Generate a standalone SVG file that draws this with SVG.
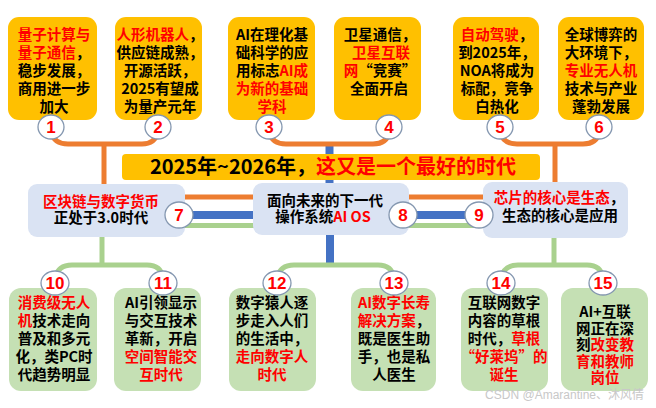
<svg xmlns="http://www.w3.org/2000/svg" width="656" height="408" viewBox="0 0 656 408">
<style>
.top{fill:#FFC000}
.mid{fill:#DAE3F3}
.bot{fill:#C5E0B4}
.t{font-family:"Noto Sans CJK SC","Liberation Sans",sans-serif;font-size:14.5px;font-weight:bold;fill:#000;text-anchor:middle}
.r{fill:#FF0000}
.num{font-family:"Liberation Sans","Noto Sans CJK SC",sans-serif;font-size:17px;font-weight:bold;fill:#FF0000;text-anchor:middle}
.c{fill:#fff;stroke:#8497B0;stroke-width:1.3}
.o{fill:none;stroke:#ED7D31;stroke-width:5}
.b{fill:none;stroke:#4472C4;stroke-width:8}
.g{fill:none;stroke:#A9D18E;stroke-width:5}
</style>
<rect width="656" height="408" fill="#fff"/>
<g id="connectors">
<path class="o" d="M51 132 Q54 144 68 144 H142 Q155 144 158 132"/>
<path class="o" d="M104 144 V186"/>
<path class="b" d="M329.5 146 V186"/>
<path class="o" d="M269 132 Q272 144 286 144 H373 Q387 144 389 132"/>
<path class="o" d="M500 132 Q503 144 517 144 H583 Q597 144 599 132"/>
<path class="o" d="M555 144 V184"/>
<path class="o" d="M183 197 H256 M406 197 H486" stroke-width="4.5"/>
<path class="b" d="M179 215 H256 M403 215 H479"/>
<path class="g" d="M183 225.5 H256 M406 225.5 H486"/>
<path class="g" d="M102 234 V265"/>
<path class="b" d="M330 232 V264"/>
<path class="g" d="M554 236 V265"/>
<path class="g" d="M55 278 Q58 265 72 265 H147 Q161 265 163 278"/>
<path class="g" d="M277 278 Q280 265 294 265 H378 Q392 265 394 278"/>
<path class="g" d="M501 278 Q504 265 518 265 H587 Q601 265 603 278"/>
</g>
<g id="title">
<rect x="122" y="154" width="418" height="26" rx="4" fill="#FFC000"/>
<text x="333" y="174" font-family="'Noto Sans CJK SC','Liberation Sans',sans-serif" font-size="20" font-weight="bold" text-anchor="middle" fill="#000">2025年~2026年，<tspan fill="#FF0000">这又是一个最好的时代</tspan></text>
</g>
<g id="n1">
<rect class="top" x="8" y="17" width="89" height="103" rx="11"/>
<text class="t"><tspan x="54" y="40" class="r">量子计算与</tspan><tspan x="54" y="58"><tspan class="r">量子通信</tspan>，</tspan><tspan x="54" y="76">稳步发展，</tspan><tspan x="54" y="94">商用进一步</tspan><tspan x="54" y="112">加大</tspan></text>
<ellipse class="c" cx="51" cy="127" rx="13" ry="12"/>
<text class="num" x="51" y="133">1</text>
</g>
<g id="n2">
<rect class="top" x="115" y="17" width="87" height="103" rx="11"/>
<text class="t"><tspan x="160" y="40"><tspan class="r">人形机器人</tspan>，</tspan><tspan x="160" y="58">供应链成熟，</tspan><tspan x="160" y="76">开源活跃，</tspan><tspan x="160" y="94">2025有望成</tspan><tspan x="160" y="112">为量产元年</tspan></text>
<ellipse class="c" cx="158" cy="127" rx="13" ry="12"/>
<text class="num" x="158" y="133">2</text>
</g>
<g id="n3">
<rect class="top" x="228" y="17" width="87" height="103" rx="11"/>
<text class="t"><tspan x="272" y="40">AI在理化基</tspan><tspan x="272" y="58">础科学的应</tspan><tspan x="272" y="76">用标志<tspan class="r">AI成</tspan></tspan><tspan x="272" y="94" class="r">为新的基础</tspan><tspan x="272" y="112" class="r">学科</tspan></text>
<ellipse class="c" cx="269" cy="127" rx="13" ry="12"/>
<text class="num" x="269" y="133">3</text>
</g>
<g id="n4">
<rect class="top" x="334" y="17" width="87" height="103" rx="11"/>
<text class="t"><tspan x="380" y="40">卫星通信，</tspan><tspan x="381" y="58" class="r">卫星互联</tspan><tspan x="380" y="76"><tspan class="r">网</tspan>“竞赛”</tspan><tspan x="379" y="94">全面开启</tspan></text>
<ellipse class="c" cx="389" cy="127" rx="13" ry="12"/>
<text class="num" x="389" y="133">4</text>
</g>
<g id="n5">
<rect class="top" x="453" y="17" width="86" height="103" rx="11"/>
<text class="t"><tspan x="497" y="40"><tspan class="r">自动驾驶</tspan>，</tspan><tspan x="497" y="58">到2025年，</tspan><tspan x="497" y="76">NOA将成为</tspan><tspan x="497" y="94">标配，竞争</tspan><tspan x="497" y="112">白热化</tspan></text>
<ellipse class="c" cx="500" cy="127" rx="13" ry="12"/>
<text class="num" x="500" y="133">5</text>
</g>
<g id="n6">
<rect class="top" x="558" y="17" width="86" height="103" rx="11"/>
<text class="t"><tspan x="601" y="40">全球博弈的</tspan><tspan x="601" y="58">大环境下，</tspan><tspan x="601" y="76" class="r">专业无人机</tspan><tspan x="601" y="94">技术与产业</tspan><tspan x="601" y="112">蓬勃发展</tspan></text>
<ellipse class="c" cx="599" cy="127" rx="13" ry="12"/>
<text class="num" x="599" y="133">6</text>
</g>
<g id="n7">
<rect class="mid" x="28" y="184" width="157" height="53" rx="9"/>
<text class="t"><tspan x="101" y="207" class="r">区块链与数字货币</tspan><tspan x="101" y="223">正处于3.0时代</tspan></text>
<ellipse class="c" cx="179" cy="215" rx="14" ry="13"/>
<text class="num" x="179" y="221">7</text>
</g>
<g id="n8">
<rect class="mid" x="253" y="183" width="156" height="52" rx="9"/>
<text class="t"><tspan x="325" y="206">面向未来的下一代</tspan><tspan x="323" y="222">操作系统<tspan class="r">AI OS</tspan></tspan></text>
<ellipse class="c" cx="403" cy="215" rx="14" ry="13"/>
<text class="num" x="403" y="221">8</text>
</g>
<g id="n9">
<rect class="mid" x="483" y="182" width="145" height="56" rx="9"/>
<text class="t"><tspan x="559" y="203"><tspan class="r">芯片的核心是生态</tspan>，</tspan><tspan x="560" y="221">生态的核心是应用</tspan></text>
<ellipse class="c" cx="479" cy="215" rx="14" ry="13"/>
<text class="num" x="479" y="221">9</text>
</g>
<g id="n10">
<rect class="bot" x="9" y="288" width="88" height="103" rx="12"/>
<text class="t"><tspan x="54" y="308" class="r">消费级无人</tspan><tspan x="54" y="326"><tspan class="r">机</tspan>技术走向</tspan><tspan x="54" y="344">普及和多元</tspan><tspan x="54" y="362">化，类PC时</tspan><tspan x="54" y="380">代趋势明显</tspan></text>
<ellipse class="c" cx="55" cy="283" rx="14" ry="12"/>
<text class="num" x="55" y="289">10</text>
</g>
<g id="n11">
<rect class="bot" x="114" y="288" width="87" height="103" rx="12"/>
<text class="t"><tspan x="161" y="308">AI引领显示</tspan><tspan x="161" y="326">与交互技术</tspan><tspan x="161" y="344">革新，开启</tspan><tspan x="161" y="362" class="r">空间智能交</tspan><tspan x="161" y="380" class="r">互时代</tspan></text>
<ellipse class="c" cx="163" cy="283" rx="14" ry="12"/>
<text class="num" x="163" y="289">11</text>
</g>
<g id="n12">
<rect class="bot" x="229" y="288" width="87" height="103" rx="12"/>
<text class="t"><tspan x="272" y="308">数字猿人逐</tspan><tspan x="272" y="326">步走入人们</tspan><tspan x="272" y="344">的生活中，</tspan><tspan x="272" y="362" class="r">走向数字人</tspan><tspan x="272" y="380" class="r">时代</tspan></text>
<ellipse class="c" cx="277" cy="283" rx="14" ry="12"/>
<text class="num" x="277" y="289">12</text>
</g>
<g id="n13">
<rect class="bot" x="351" y="288" width="85" height="103" rx="12"/>
<text class="t"><tspan x="394" y="308" class="r">AI数字长寿</tspan><tspan x="394" y="326"><tspan class="r">解决方案</tspan>，</tspan><tspan x="394" y="344">既是医生助</tspan><tspan x="394" y="362">手，也是私</tspan><tspan x="394" y="380">人医生</tspan></text>
<ellipse class="c" cx="394" cy="283" rx="14" ry="12"/>
<text class="num" x="394" y="289">13</text>
</g>
<g id="n14">
<rect class="bot" x="461" y="288" width="87" height="103" rx="12"/>
<text class="t"><tspan x="504" y="308">互联网数字</tspan><tspan x="504" y="326">内容的草根</tspan><tspan x="504" y="344">时代，<tspan class="r">草根</tspan></tspan><tspan x="504" y="362" class="r">“好莱坞”的</tspan><tspan x="504" y="380" class="r">诞生</tspan></text>
<ellipse class="c" cx="501" cy="283" rx="14" ry="12"/>
<text class="num" x="501" y="289">14</text>
</g>
<g id="n15">
<rect class="bot" x="561" y="288" width="87" height="103" rx="12"/>
<text class="t"><tspan x="605" y="317">AI+互联</tspan><tspan x="605" y="333.5">网正在深</tspan><tspan x="605" y="350">刻<tspan class="r">改变教</tspan></tspan><tspan x="605" y="366.5" class="r">育和教师</tspan><tspan x="605" y="383" class="r">岗位</tspan></text>
<ellipse class="c" cx="603" cy="283" rx="14" ry="12"/>
<text class="num" x="603" y="289">15</text>
</g>
<text x="644" y="399" font-family="'Liberation Sans','Noto Sans CJK SC',sans-serif" font-size="12" fill="#C8C8C8" text-anchor="end">CSDN @Amarantine、沐风倩</text>
</svg>
